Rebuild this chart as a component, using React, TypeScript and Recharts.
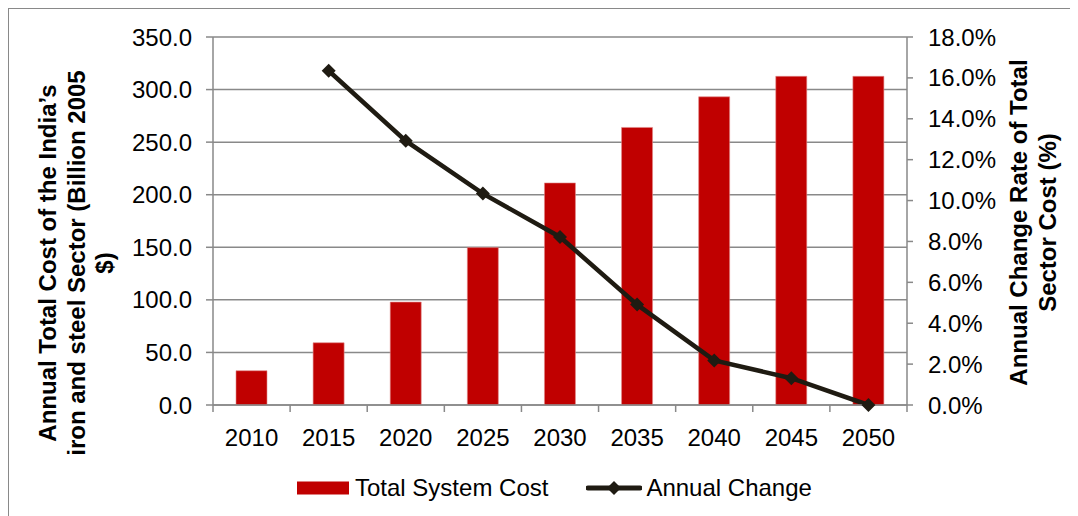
import React from 'react';
import { ComposedChart, Bar, Line, XAxis, YAxis, CartesianGrid, Legend } from 'recharts';

const years = ['2010', '2015', '2020', '2025', '2030', '2035', '2040', '2045', '2050'];
const totalCost = [32.6, 59.2, 97.9, 149.7, 211.2, 264.0, 293.1, 312.6, 312.6];
const annualChange = [null, 16.35, 12.92, 10.34, 8.22, 4.91, 2.18, 1.31, 0.0];

const costTicks = [0, 50, 100, 150, 200, 250, 300, 350];
const changeTicks = [0, 2, 4, 6, 8, 10, 12, 14, 16, 18];

const leftTitle = ['Annual Total Cost of the India\u2019s', 'iron and steel Sector (Billion 2005', '$)'];
const rightTitle = ['Annual Change Rate of Total', 'Sector Cost (%)'];
const legendOrder = ['cost', 'change'];

const data = years.map((y, i) => ({ year: y, cost: totalCost[i], change: annualChange[i] }));

const AXIS = '#898989';
const RED = '#C00000';
const DARK = '#1f1b12';
const FONT = '"Liberation Sans", Arial, sans-serif';
const FS = 24;
const X_MARGIN = 24;

// excel-style ticks: label in the band, tick mark on the band edges
const YearTick = (props: any) => {
  const { x, y, payload, index, visibleTicksCount, width } = props;
  const half = payload.offset || (width / visibleTicksCount / 2);
  const ay = y - X_MARGIN;
  return (
    <g>
      <line x1={x - half} x2={x - half} y1={ay} y2={ay + 7} stroke={AXIS} strokeWidth={1.5} />
      {index === visibleTicksCount - 1 && (
        <line x1={x + half} x2={x + half} y1={ay} y2={ay + 7} stroke={AXIS} strokeWidth={1.5} />
      )}
      <text x={x} y={y} dy="0.71em" textAnchor="middle" fontSize={FS} fill="#000">{payload.value}</text>
    </g>
  );
};

const Diamond = (props: any) => {
  const { cx, cy, index } = props;
  if (cx == null || cy == null || props.value == null) return <g key={index} />;
  const r = 7;
  return (
    <path key={index} d={`M${cx},${cy - r}L${cx + r},${cy}L${cx},${cy + r}L${cx - r},${cy}Z`} fill={DARK} />
  );
};

const titleLabel = (lines: string[], dxs: number[], dyc: number) => (props: any) => {
  const vb = props.viewBox;
  const cy = vb.y + vb.height / 2 + dyc;
  return (
    <g>
      {lines.map((t, i) => {
        const cx = vb.x + dxs[i];
        return (
          <text key={t} x={cx} y={cy} transform={`rotate(-90, ${cx}, ${cy})`} textAnchor="middle"
            dominantBaseline="central" fontSize={FS} fontWeight="bold" fill="#000">{t}</text>
        );
      })}
    </g>
  );
};

const renderLegend = (props: any) => {
  const items = [...(props.payload || [])].sort(
    (a: any, b: any) => legendOrder.indexOf(a.dataKey) - legendOrder.indexOf(b.dataKey));
  return (
    <div style={{ width: 1069, height: 30, display: 'flex', alignItems: 'center', paddingLeft: 288, boxSizing: 'border-box' }}>
      {items.map((e: any) => (
        <div key={e.value} style={{ display: 'flex', alignItems: 'center', marginRight: 38 }}>
          {e.dataKey === 'cost' ? (
            <svg width={52} height={14} style={{ marginRight: 6 }}>
              <rect x={0} y={0.5} width={52} height={13} fill={RED} />
            </svg>
          ) : (
            <svg width={56} height={16} style={{ marginRight: 4 }}>
              <line x1={2} x2={54} y1={8} y2={8} stroke={DARK} strokeWidth={5} strokeLinecap="round" />
              <path d="M28,1L35,8L28,15L21,8Z" fill={DARK} />
            </svg>
          )}
          <span style={{ fontSize: FS, color: '#000' }}>{e.value}</span>
        </div>
      ))}
    </div>
  );
};

export default function App() {
  return (
    <div style={{ width: 1069, height: 507, borderLeft: `1px solid ${AXIS}`, borderTop: `1px solid ${AXIS}`, fontFamily: FONT }}>
      <ComposedChart width={1069} height={507} data={data} margin={{ top: 28, right: 0, left: 0, bottom: 13 }}
        barCategoryGap="0%" style={{ fontFamily: FONT }}>
        <CartesianGrid yAxisId="left" vertical={false} stroke={AXIS} strokeWidth={1.5} />
        <XAxis dataKey="year" height={68} axisLine={{ stroke: AXIS, strokeWidth: 1.5 }} tickLine={false}
          tickSize={0} tickMargin={X_MARGIN} tick={<YearTick />} interval={0} />
        <YAxis yAxisId="left" width={204} domain={[0, 350]} ticks={costTicks} interval={0}
          tickFormatter={(v: number) => v.toFixed(1)} tickSize={7} tickMargin={14}
          axisLine={{ stroke: AXIS, strokeWidth: 1.5 }} tickLine={{ stroke: AXIS, strokeWidth: 1.5 }}
          tick={{ fill: '#000', fontSize: FS }}
          label={{ content: titleLabel(leftTitle, [38.5, 67, 95], 42) }} />
        <YAxis yAxisId="right" orientation="right" width={171} domain={[0, 18]} ticks={changeTicks} interval={0}
          tickFormatter={(v: number) => `${v.toFixed(1)}%`} tickSize={6} tickMargin={15}
          axisLine={{ stroke: AXIS, strokeWidth: 1.5 }} tickLine={{ stroke: AXIS, strokeWidth: 1.5 }}
          tick={{ fill: '#000', fontSize: FS, textAnchor: 'start' }}
          label={{ content: titleLabel(rightTitle, [111, 140], 1.5) }} />
        <Legend verticalAlign="bottom" height={30} content={renderLegend} />
        <Bar yAxisId="left" dataKey="cost" name="Total System Cost" fill={RED} barSize={31}
          stroke="#e08a8a" strokeWidth={0.6} isAnimationActive={false} />
        <Line yAxisId="right" dataKey="change" name="Annual Change" stroke={DARK} strokeWidth={4.5}
          dot={Diamond} activeDot={false} isAnimationActive={false} />
      </ComposedChart>
    </div>
  );
}
